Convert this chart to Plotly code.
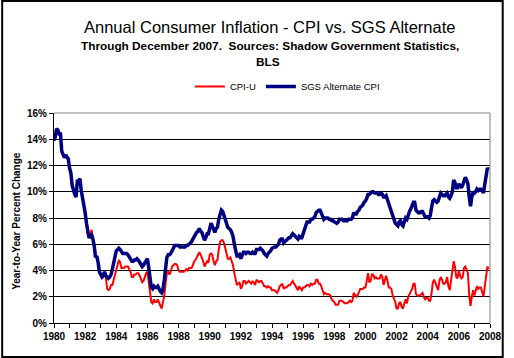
import pandas as pd
import plotly.graph_objects as go

# Monthly observations, Jan 1980 .. Dec 2007 (year-to-year % change)
months = pd.date_range("1980-01-01", "2007-12-01", freq="MS")

cpi_u = [
    13.9, 14.2, 14.8, 14.7, 14.4, 14.4, 13.1, 12.9, 12.6, 12.8, 12.6, 12.5,  # 1980
    11.8, 11.4, 10.5, 10.0, 9.8, 9.6, 10.8, 10.8, 11.0, 10.1, 9.6, 8.9,      # 1981
    8.4, 7.6, 6.8, 6.5, 6.7, 7.1, 6.4, 5.9, 5.0, 5.1, 4.6, 3.8,              # 1982
    3.7, 3.5, 3.6, 3.9, 3.5, 2.6, 2.5, 2.6, 2.9, 2.9, 3.3, 3.8,              # 1983
    4.2, 4.6, 4.8, 4.6, 4.2, 4.2, 4.2, 4.3, 4.3, 4.3, 4.1, 3.9,              # 1984
    3.5, 3.5, 3.7, 3.7, 3.8, 3.8, 3.6, 3.3, 3.1, 3.2, 3.5, 3.8,              # 1985
    3.9, 3.1, 2.2, 1.6, 1.5, 1.8, 1.6, 1.6, 1.8, 1.5, 1.3, 1.1,              # 1986
    1.5, 2.1, 3.0, 3.8, 3.9, 3.7, 3.9, 4.3, 4.4, 4.5, 4.5, 4.4,              # 1987
    4.0, 3.9, 3.9, 3.9, 3.9, 4.0, 4.1, 4.0, 4.2, 4.2, 4.2, 4.4,              # 1988
    4.7, 4.8, 5.0, 5.1, 5.4, 5.2, 5.0, 4.7, 4.3, 4.5, 4.7, 4.6,              # 1989
    5.2, 5.3, 5.2, 4.7, 4.4, 4.7, 4.8, 5.6, 6.2, 6.3, 6.3, 6.1,              # 1990
    5.7, 5.3, 4.9, 4.9, 5.0, 4.7, 4.4, 3.8, 3.4, 2.9, 3.0, 3.1,              # 1991
    2.6, 2.8, 3.2, 3.2, 3.0, 3.1, 3.2, 3.1, 3.0, 3.2, 3.0, 2.9,              # 1992
    3.3, 3.2, 3.1, 3.2, 3.2, 3.0, 2.8, 2.8, 2.7, 2.8, 2.7, 2.7,              # 1993
    2.5, 2.5, 2.5, 2.4, 2.3, 2.5, 2.8, 2.9, 3.0, 2.6, 2.7, 2.7,              # 1994
    2.8, 2.9, 2.9, 3.1, 3.2, 3.0, 2.8, 2.6, 2.5, 2.8, 2.6, 2.5,              # 1995
    2.7, 2.7, 2.8, 2.9, 2.9, 2.8, 3.0, 2.9, 3.0, 3.0, 3.3, 3.3,              # 1996
    3.0, 3.0, 2.8, 2.5, 2.2, 2.3, 2.2, 2.2, 2.2, 2.1, 1.8, 1.7,              # 1997
    1.6, 1.4, 1.4, 1.4, 1.7, 1.7, 1.7, 1.6, 1.5, 1.5, 1.5, 1.6,              # 1998
    1.7, 1.6, 1.7, 2.3, 2.1, 2.0, 2.1, 2.3, 2.6, 2.6, 2.6, 2.7,              # 1999
    2.7, 3.2, 3.8, 3.1, 3.2, 3.7, 3.7, 3.4, 3.5, 3.4, 3.4, 3.4,              # 2000
    3.7, 3.5, 2.9, 3.3, 3.6, 3.2, 2.7, 2.7, 2.6, 2.1, 1.9, 1.6,              # 2001
    1.1, 1.1, 1.5, 1.6, 1.2, 1.1, 1.5, 1.8, 1.5, 2.0, 2.2, 2.4,              # 2002
    2.6, 3.0, 3.0, 2.2, 2.1, 2.1, 2.1, 2.2, 2.3, 2.0, 1.8, 1.9,              # 2003
    1.9, 1.7, 1.7, 2.3, 3.1, 3.3, 3.0, 2.7, 2.5, 3.2, 3.5, 3.3,              # 2004
    3.0, 3.0, 3.1, 3.5, 2.8, 2.5, 3.2, 3.6, 4.7, 4.3, 3.5, 3.4,              # 2005
    4.0, 3.6, 3.4, 3.5, 4.2, 4.3, 4.1, 3.8, 2.1, 1.3, 2.0, 2.5,              # 2006
    2.1, 2.4, 2.8, 2.6, 2.7, 2.7, 2.4, 2.0, 2.8, 3.5, 4.3, 4.1,              # 2007
]

sgs_alt = [
    13.9, 14.2, 14.8, 14.7, 14.4, 14.4, 13.1, 12.9, 12.6, 12.8, 12.6, 12.5,  # 1980
    11.8, 11.4, 10.5, 10.0, 9.8, 9.6, 10.8, 10.8, 11.0, 10.1, 9.6, 8.9,      # 1981
    8.4, 7.6, 6.8, 6.5, 6.6, 6.7, 6.4, 5.9, 5.0, 5.1, 4.6, 3.9,              # 1982
    3.7, 3.5, 3.6, 3.9, 3.6, 3.5, 3.4, 3.5, 3.7, 4.1, 4.6, 5.2,              # 1983
    5.5, 5.6, 5.7, 5.6, 5.4, 5.3, 5.3, 5.3, 5.3, 5.2, 5.0, 4.9,              # 1984
    4.7, 4.7, 4.8, 4.8, 4.9, 4.8, 4.6, 4.4, 4.3, 4.4, 4.6, 4.8,              # 1985
    4.9, 4.2, 3.3, 2.7, 2.6, 2.8, 2.7, 2.7, 2.8, 2.5, 2.4, 2.3,              # 1986
    2.6, 3.3, 4.3, 5.0, 5.2, 5.2, 5.3, 5.6, 5.7, 5.9, 5.9, 5.9,              # 1987
    5.9, 5.8, 5.8, 5.8, 5.8, 5.8, 5.9, 5.9, 6.0, 6.1, 6.2, 6.4,              # 1988
    6.6, 6.7, 6.9, 7.0, 7.2, 7.0, 6.9, 6.6, 6.3, 6.5, 6.8, 6.8,              # 1989
    7.4, 7.6, 7.4, 7.1, 6.9, 7.2, 7.3, 7.9, 8.4, 8.6, 8.5, 8.2,              # 1990
    8.0, 7.6, 7.3, 7.2, 7.1, 6.9, 6.6, 6.0, 5.5, 5.1, 5.1, 5.2,              # 1991
    4.9, 5.1, 5.4, 5.4, 5.3, 5.4, 5.4, 5.3, 5.3, 5.4, 5.3, 5.3,              # 1992
    5.6, 5.6, 5.6, 5.7, 5.6, 5.5, 5.3, 5.2, 5.1, 5.3, 5.4, 5.5,              # 1993
    5.7, 5.8, 5.8, 5.8, 5.9, 6.0, 6.3, 6.4, 6.4, 6.1, 6.2, 6.3,              # 1994
    6.4, 6.5, 6.5, 6.7, 6.8, 6.7, 6.6, 6.5, 6.4, 6.6, 6.5, 6.5,              # 1995
    6.8, 7.1, 7.5, 7.7, 7.7, 7.7, 7.9, 7.9, 8.0, 8.1, 8.4, 8.5,              # 1996
    8.6, 8.6, 8.4, 8.1, 7.9, 8.0, 8.0, 8.0, 7.9, 7.9, 7.8, 7.8,              # 1997
    7.7, 7.6, 7.6, 7.7, 7.9, 7.9, 7.9, 7.8, 7.8, 7.8, 7.8, 7.9,              # 1998
    7.9, 7.9, 8.0, 8.4, 8.3, 8.3, 8.5, 8.6, 8.8, 8.9, 9.0, 9.2,              # 1999
    9.3, 9.5, 9.8, 9.8, 9.9, 10.0, 10.0, 9.9, 9.9, 9.9, 9.8, 9.8,            # 2000
    9.9, 9.8, 9.6, 9.6, 9.7, 9.4, 9.0, 8.8, 8.5, 8.2, 7.9, 7.6,              # 2001
    7.5, 7.4, 7.7, 7.8, 7.5, 7.4, 7.7, 8.0, 7.9, 8.3, 8.5, 8.7,              # 2002
    8.9, 9.2, 9.2, 8.6, 8.5, 8.4, 8.4, 8.5, 8.5, 8.3, 8.1, 8.1,              # 2003
    8.1, 8.0, 8.2, 8.8, 9.3, 9.4, 9.3, 9.2, 9.3, 9.7, 9.9, 9.8,              # 2004
    9.7, 9.7, 9.8, 9.9, 9.6, 9.5, 9.7, 10.0, 10.9, 10.7, 10.3, 10.3,         # 2005
    10.6, 10.4, 10.3, 10.5, 10.9, 11.1, 10.9, 10.6, 9.6, 8.9, 9.6, 10.0,     # 2006
    9.9, 10.0, 10.2, 10.1, 10.2, 10.2, 10.1, 9.9, 10.6, 11.2, 11.8, 11.7,    # 2007
]

y_ticks = [0, 2, 4, 6, 8, 10, 12, 14, 16]

FONT = "Liberation Sans, Arial, sans-serif"

fig = go.Figure()
fig.add_trace(go.Scatter(x=months, y=cpi_u, mode="lines", name="CPI-U",
                         line=dict(color="#FF0000", width=2)))
fig.add_trace(go.Scatter(x=months, y=sgs_alt, mode="lines", name="SGS Alternate CPI",
                         line=dict(color="#000080", width=3.5)))

L, R, T, B = 54, 14, 113, 35
W, H = 514, 358
pw, ph = W - L - R, H - T - B


def px(xp):
    return (xp - L) / pw


def py(yp):
    return (H - B - yp) / ph


fig.update_layout(
    width=W, height=H,
    margin=dict(l=L, r=R, t=T, b=B),
    paper_bgcolor="white", plot_bgcolor="white",
    font=dict(family=FONT, color="black"),
    showlegend=True,
    legend=dict(orientation="h", x=px(193), y=py(72), xanchor="left", yanchor="top",
                font=dict(size=9.5, family=FONT), bgcolor="rgba(0,0,0,0)",
                itemwidth=30, tracegroupgap=0),
    xaxis=dict(
        type="date", range=["1980-01-01", "2008-01-01"],
        tickmode="linear", tick0="1980-01-01", dtick="M24", tickformat="%Y",
        ticks="outside", ticklen=4, tickcolor="black", tickwidth=1,
        minor=dict(dtick="M12", tick0="1980-01-01", ticks="outside", ticklen=4,
                   tickcolor="black", showgrid=False),
        showgrid=False, showline=True, linecolor="black", linewidth=1,
        tickfont=dict(size=10, family=FONT, weight="bold"),
    ),
    yaxis=dict(
        range=[0, 16], tickmode="array", tickvals=y_ticks,
        ticktext=[f"{v}%" for v in y_ticks],
        ticks="outside", ticklen=4, tickcolor="black",
        showgrid=True, gridcolor="black", gridwidth=1, zeroline=False,
        showline=True, linecolor="black", linewidth=1,
        tickfont=dict(size=10, family=FONT, weight="bold"),
    ),
    annotations=[
        dict(text="Annual Consumer Inflation - CPI vs. SGS Alternate", xref="paper", yref="paper",
             x=px(274), y=py(27), xanchor="center", yanchor="middle", showarrow=False,
             font=dict(size=16.5, family=FONT)),
        dict(text="Through December 2007.&nbsp; Sources: Shadow Government Statistics,",
             xref="paper", yref="paper", x=px(274.5), y=py(46), xanchor="center", yanchor="middle",
             showarrow=False, font=dict(size=11.8, family=FONT, weight="bold")),
        dict(text="BLS", xref="paper", yref="paper", x=px(273), y=py(62), xanchor="center",
             yanchor="middle", showarrow=False, font=dict(size=11.8, family=FONT, weight="bold")),
        dict(text="Year-to-Year Percent Change", xref="paper", yref="paper", x=px(15), y=py(221),
             xanchor="center", yanchor="middle", textangle=-90, showarrow=False,
             font=dict(size=10, family=FONT, weight="bold")),
    ],
    shapes=[
        dict(type="line", xref="paper", yref="paper", x0=0, x1=1, y0=1, y1=1,
             line=dict(color="#808080", width=1)),
        dict(type="line", xref="paper", yref="paper", x0=1, x1=1, y0=0, y1=1,
             line=dict(color="#808080", width=1)),
        dict(type="rect", xref="paper", yref="paper", x0=px(1), x1=px(513), y0=py(1), y1=py(357),
             line=dict(color="black", width=2), fillcolor="rgba(0,0,0,0)", layer="above"),
    ],
)

fig.write_html(
    "out.html",
    config={"displayModeBar": False},
    post_script="document.body.style.margin='0';document.body.style.overflow='hidden';",
)
